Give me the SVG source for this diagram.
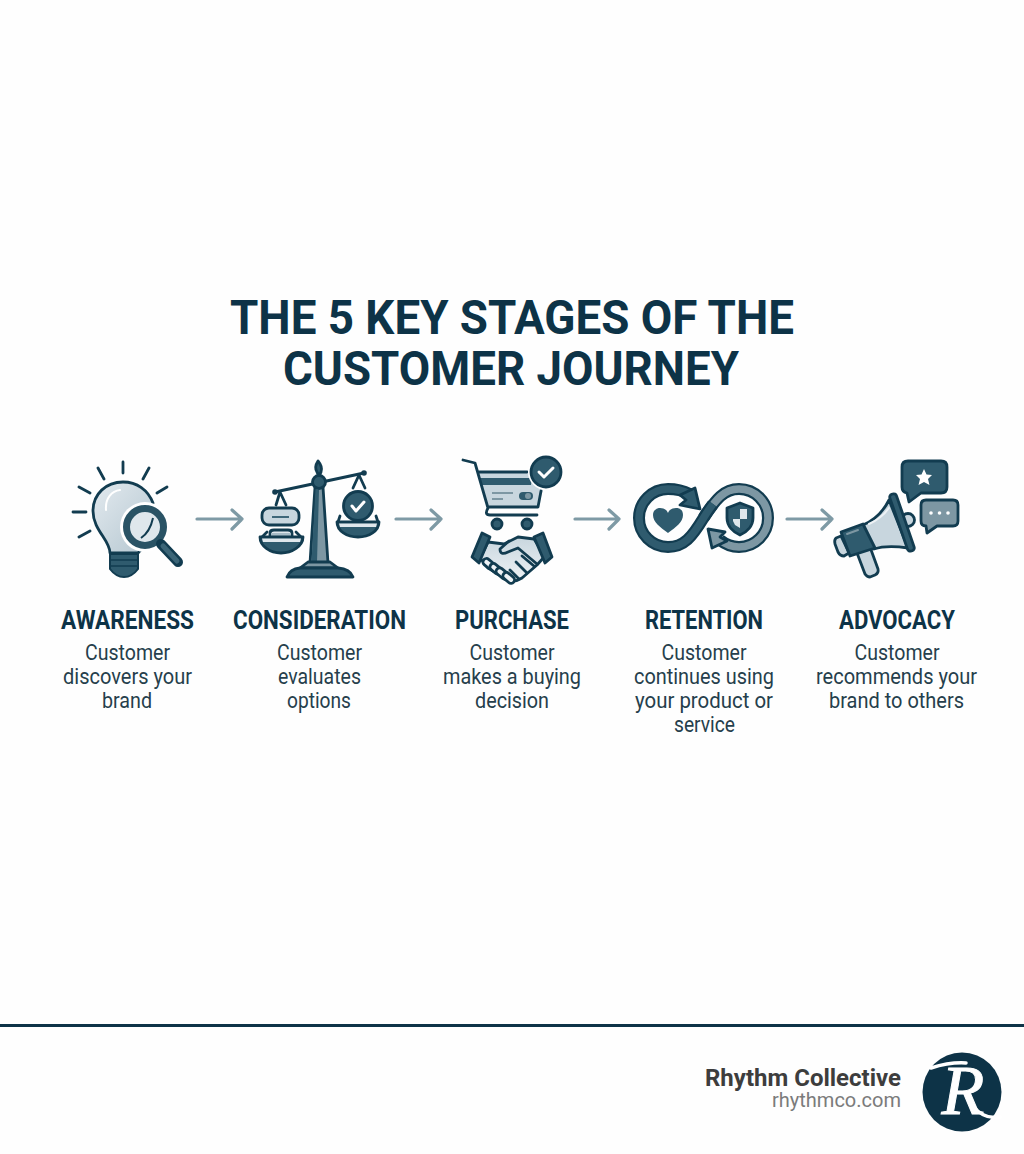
<svg xmlns="http://www.w3.org/2000/svg" width="1024" height="1154" viewBox="0 0 1024 1154">
<style>
text{font-family:Roboto,"Liberation Sans",sans-serif;text-anchor:middle}
.title{font-size:49px;font-weight:700;fill:#0d3347}
.head{font-size:26px;font-weight:700;fill:#0d3347}
.body{font-size:22px;font-weight:400;fill:#263f4c}
.o{stroke:#123c50;stroke-width:2.800;stroke-linejoin:round;stroke-linecap:round}
.dk{fill:#2f5b6e}.md{fill:#7d97a3}.lt{fill:#c8d6de}.pl{fill:#dfe7ec}
.ln{fill:none;stroke:#123c50;stroke-width:2.800;stroke-linecap:round;stroke-linejoin:round}
.wt{fill:none;stroke:#fff;stroke-width:3;stroke-linecap:round;stroke-linejoin:round}
.ar{fill:none;stroke:#7e9aa5;stroke-width:3.200;stroke-linecap:round;stroke-linejoin:round}
</style>
<defs>
<linearGradient id="bulb" x1="0" y1="0" x2="1" y2="1"><stop offset="0" stop-color="#e3eaef"/><stop offset="1" stop-color="#b4c6d0"/></linearGradient>
<linearGradient id="hand" x1="0" y1="0" x2="0" y2="1"><stop offset="0" stop-color="#c8d6de"/><stop offset="1" stop-color="#eef2f5"/></linearGradient>
</defs>
<rect width="1024" height="1154" fill="#fefefe"/>
<g id="title">
<text class="title" x="512" y="334" textLength="564" lengthAdjust="spacingAndGlyphs">THE 5 KEY STAGES OF THE</text>
<text class="title" x="511" y="385" textLength="456" lengthAdjust="spacingAndGlyphs">CUSTOMER JOURNEY</text>
</g>
<g id="connectors">
<path class="ar" d="M197 519H242M232 510L242 519L232 529"/>
<path class="ar" d="M396 519H441M431 510L441 519L431 529"/>
<path class="ar" d="M575 519H619M609 510L619 519L609 529"/>
<path class="ar" d="M787 519H832M822 510L832 519L822 529"/>
</g>
<g id="node-awareness">
<path class="ln" d="M123 462V473M98 468L104 479M149 468L143 479M79 487L90 493M167 487L157 493M73 512H86M79 537L90 531"/>
<path class="o" fill="url(#bulb)" d="M110 553C110 540 93 530 93 511C93 494 106 482 123 482C137 482 148 490 153 503L150 540L138 553Z"/>
<path d="M106 510C105 498 112 491 120 490" fill="none" stroke="#fff" stroke-width="2" stroke-linecap="round"/>
<path class="dk" stroke="#123c50" stroke-width="2" d="M110 554H138V569Q132 577 124 577Q116 577 110 569Z"/>
<path d="M110 560H138M110 566H138" stroke="#123c50" stroke-width="1.600"/>
<circle cx="145" cy="527" r="25" fill="#fff"/>
<circle cx="145" cy="527" r="18.500" fill="#dfe7ec" stroke="#2a5365" stroke-width="7"/>
<path d="M141 538Q150 532 153 518" fill="none" stroke="#123c50" stroke-width="2"/>
<path d="M161 544L178 562" stroke="#123c50" stroke-width="10" stroke-linecap="round"/>
<path d="M163 546L177 561" stroke="#3b6577" stroke-width="5" stroke-linecap="round"/>
<text class="head" x="127.500" y="629" textLength="133" lengthAdjust="spacingAndGlyphs">AWARENESS</text>
<text class="body" x="127.500" y="660" textLength="85" lengthAdjust="spacingAndGlyphs">Customer</text>
<text class="body" x="127.500" y="684" textLength="129" lengthAdjust="spacingAndGlyphs">discovers your</text>
<text class="body" x="127" y="708" textLength="50" lengthAdjust="spacingAndGlyphs">brand</text>
</g>
<g id="node-consideration">
<path class="o md" d="M315 487H323L328 563H310Z"/>
<path d="M319 490L317 562H311.500L315.500 489Z" fill="#2f5b6e"/>
<path class="o md" d="M300 568L308 562H330L338 568Z"/>
<path class="o dk" d="M287 577Q290 569 300 568H338Q350 569 353 577Z"/>
<path class="o dk" d="M318 461Q323 467 321 472L319 476L317 472Q314 467 318 461Z"/>
<path d="M275 492L364 473" stroke="#123c50" stroke-width="3"/>
<circle cx="275" cy="492" r="2.800" fill="#123c50"/><circle cx="364" cy="473" r="2.800" fill="#123c50"/>
<circle class="o dk" cx="319" cy="482" r="6.500"/>
<path class="ln" d="M280 492L276 505M280 492L286 505M359 475L353 488M359 475L365 488"/>
<rect class="o lt" x="262" y="508" width="37" height="17" rx="7"/>
<path d="M272 517H289" stroke="#3f6779" stroke-width="2"/>
<path class="o pl" d="M270 537V533Q270 530 274 530H288Q292 530 292 533V537"/>
<path d="M271 535H291" stroke="#a8bcc7" stroke-width="4"/>
<path class="o dk" d="M260 537H303C303 546 292 553 281 553C270 553 260 546 260 537Z"/>
<path class="ln" d="M262 537L267 532M301 537L296 532"/>
<path d="M262 538.500H301L300 542H263Z" fill="#dfe7ec"/>
<circle class="o dk" cx="358" cy="506" r="14.500"/>
<path class="wt" d="M352 506L356 511L364 502"/>
<path class="ln" d="M340 516L338 522M376 516L378 522"/>
<path class="o dk" d="M337 522H379C379 531 369 537 358 537C347 537 337 531 337 522Z"/>
<path d="M339 523.500H377L376 527H340Z" fill="#dfe7ec"/>
<text class="head" x="319.500" y="629" textLength="173" lengthAdjust="spacingAndGlyphs">CONSIDERATION</text>
<text class="body" x="319.500" y="660" textLength="85" lengthAdjust="spacingAndGlyphs">Customer</text>
<text class="body" x="319.500" y="684" textLength="83" lengthAdjust="spacingAndGlyphs">evaluates</text>
<text class="body" x="319" y="708" textLength="64" lengthAdjust="spacingAndGlyphs">options</text>
</g>
<g id="node-purchase">
<path class="lt" d="M479 472H532L543 490L538 507H488Z"/>
<path class="dk" d="M480 478H532L531 485H482Z"/>
<path class="ln" d="M463 460L475 463L488 508Q484 515 490 515H537M478 472H527M541 491L538 507H488"/>
<path d="M492 493H513M492 499H503" stroke="#7d97a3" stroke-width="2"/>
<rect x="519" y="492" width="14" height="8" rx="4" fill="#2f5b6e"/><circle cx="528" cy="496" r="3" fill="#7d97a3"/>
<circle cx="546" cy="472" r="18" fill="#fff"/>
<circle class="o dk" cx="546" cy="472" r="15"/>
<path class="wt" d="M539 472L544 477L553 468"/>
<circle class="o dk" cx="497" cy="524" r="5"/><circle class="o dk" cx="527" cy="524" r="5"/>
<path class="o" fill="url(#hand)" d="M488 542L504 544L518 537L534 539L545 556L537 565L522 578Q514 583 508 580L488 568L480 558Z"/>
<path class="ln" d="M537 564L518 548L508 552Q500 556 500 549L509 541"/>
<path class="ln" d="M534 566L522 556M527 573L516 562M519 579L510 570"/>
<g class="o" fill="#eef2f5"><rect x="482" y="560" width="12" height="7" rx="3.500" transform="rotate(40 488 564)"/><rect x="489" y="565" width="13" height="7" rx="3.500" transform="rotate(40 495 569)"/><rect x="495" y="570" width="14" height="7" rx="3.500" transform="rotate(40 502 574)"/><rect x="502" y="574" width="13" height="7" rx="3.500" transform="rotate(40 508 578)"/></g>
<path class="o dk" d="M482 533L490 537L479 563L472 557Z"/>
<path class="o dk" d="M534 537L543 533L552 557L545 563Z"/>
<text class="head" x="512" y="629" textLength="114" lengthAdjust="spacingAndGlyphs">PURCHASE</text>
<text class="body" x="512" y="660" textLength="85" lengthAdjust="spacingAndGlyphs">Customer</text>
<text class="body" x="512" y="684" textLength="138" lengthAdjust="spacingAndGlyphs">makes a buying</text>
<text class="body" x="512" y="708" textLength="74" lengthAdjust="spacingAndGlyphs">decision</text>
</g>
<g id="node-retention">
<path d="M703.500 518C716 499 724 489 739 489C755 489 768 502 768 518C768 534 755 547 739 547C731 547 725 544 720 540" fill="none" stroke="#123c50" stroke-width="12"/>
<path d="M703.500 518C716 499 724 489 739 489C755 489 768 502 768 518C768 534 755 547 739 547C731 547 725 544 720 540" fill="none" stroke="#7d97a3" stroke-width="7.500"/>
<path d="M690 494C682 490 675 489 668 489C652 489 639 502 639 518C639 534 652 547 668 547C684 547 692 537 703.500 518C707 512 710 508 713 504" fill="none" stroke="#123c50" stroke-width="12"/>
<path d="M690 494C682 490 675 489 668 489C652 489 639 502 639 518C639 534 652 547 668 547C684 547 692 537 703.500 518C707 512 710 508 713 504" fill="none" stroke="#2f5b6e" stroke-width="7.500"/>
<path class="o dk" d="M695 488L700 509L680 505L686 500L680 495Z"/>
<path class="o md" d="M708 529L725 532L720 537L727 541L712 548Z"/>
<path class="dk" d="M668 533C660 527 653 522 653 515C653 510 657 508 660 508C664 508 667 510 668 513C669 510 672 508 676 508C680 508 683 510 683 515C683 522 676 527 668 533Z"/>
<path class="o dk" d="M740 503L753 508V518C753 526 747 532 740 535C733 532 727 526 727 518V508Z"/>
<path d="M740 509H747V519H740ZM733 519H740V528L735 525L733 521Z" fill="#dfe7ec"/>
<text class="head" x="704" y="629" textLength="118" lengthAdjust="spacingAndGlyphs">RETENTION</text>
<text class="body" x="704" y="660" textLength="85" lengthAdjust="spacingAndGlyphs">Customer</text>
<text class="body" x="704" y="684" textLength="140" lengthAdjust="spacingAndGlyphs">continues using</text>
<text class="body" x="704" y="708" textLength="138" lengthAdjust="spacingAndGlyphs">your product or</text>
<text class="body" x="704.500" y="732" textLength="61" lengthAdjust="spacingAndGlyphs">service</text>
</g>
<g id="node-advocacy">
<circle class="o lt" cx="908" cy="520" r="6.500"/>
<path class="o lt" d="M857 553L870 547L878 569Q879 573 875 575L870 577Q867 577 865 574Z"/>
<path class="o lt" d="M836 538L841 536L849 553L844 556Q840 556 838 552L835 544Q834 540 836 538Z"/>
<path class="o lt" d="M863 525C875 520 883 512 889 500L908 548C895 546 883 546 874 549Z"/>
<path d="M869 524C878 520 884 515 889 508" fill="none" stroke="#eef2f5" stroke-width="2" stroke-linecap="round"/>
<path class="o dk" d="M841 532L863 524L875 548L850 556Z"/>
<path d="M847 534L858 530" stroke="#7d97a3" stroke-width="2" stroke-linecap="round"/>
<rect class="o dk" x="-3.500" y="-30" width="7" height="60" rx="3" transform="translate(902 522.500) rotate(-19)"/>
<path class="o dk" d="M908 461H941Q947 461 947 467V487Q947 493 941 493H921L909 502L907 493Q902 492 902 487V467Q902 461 908 461Z"/>
<path fill="#fff" d="M924 469L926.500 474.500L932 475L928 479L929.500 485L924 482L918.500 485L920 479L916 475L921.500 474.500Z"/>
<path class="o md" d="M926 500H953Q958 500 958 505V521Q958 526 953 526H937L927 533L926 526Q921 526 921 521V505Q921 500 926 500Z"/>
<circle cx="931" cy="513" r="1.800" fill="#fff"/><circle cx="939.500" cy="513" r="1.800" fill="#fff"/><circle cx="948" cy="513" r="1.800" fill="#fff"/>
<text class="head" x="897" y="629" textLength="116" lengthAdjust="spacingAndGlyphs">ADVOCACY</text>
<text class="body" x="897" y="660" textLength="85" lengthAdjust="spacingAndGlyphs">Customer</text>
<text class="body" x="896.500" y="684" textLength="161" lengthAdjust="spacingAndGlyphs">recommends your</text>
<text class="body" x="896.500" y="708" textLength="135" lengthAdjust="spacingAndGlyphs">brand to others</text>
</g>
<g id="footer">
<rect x="0" y="1024" width="1024" height="3" fill="#0d3347"/>
<text x="901" y="1086" style="text-anchor:end;font-size:23.500px;font-weight:700;fill:#3d3d3d" textLength="196" lengthAdjust="spacingAndGlyphs">Rhythm Collective</text>
<text x="901" y="1107" style="text-anchor:end;font-size:20px;fill:#7b7b7b" textLength="129" lengthAdjust="spacingAndGlyphs">rhythmco.com</text>
<circle cx="962" cy="1092" r="39.500" fill="#0d3347"/>
<path d="M931 1068Q950 1062 966 1063M973 1106Q984 1120 1000 1117" fill="none" stroke="#fff" stroke-width="3.500" stroke-linecap="round"/>
<text x="963" y="1114" style="font-family:'Liberation Serif',serif;font-size:70px;font-weight:400;font-style:italic;fill:#fff;stroke:#fff;stroke-width:1">R</text>
</g>
</svg>
